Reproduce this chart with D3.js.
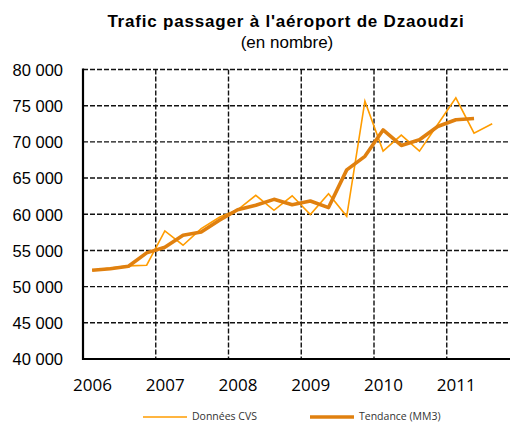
<!DOCTYPE html>
<html>
<head>
<meta charset="utf-8">
<script src="https://cdn.jsdelivr.net/npm/d3@7"></script>
<style>
  body { margin: 0; background: #fff; }
  svg { display: block; }
</style>
</head>
<body>
<div id="chart"></div>
<script>
// quarterly values, Q1 2006 -> Q3 2011
var cvs = [52270, 52550, 52870, 52960, 57690, 55720, 58020, 59580, 60620, 62620,
           60550, 62550, 59950, 62820, 59720, 75620, 68720, 70930, 68720, 72400,
           76090, 71210, 72500];
var tendance = [52270, 52480, 52820, 54660, 55440, 57100, 57550, 59170, 60620, 61240,
                62060, 61310, 61830, 60920, 66130, 68000, 71650, 69510, 70300, 72130,
                73050, 73230];
var years = [2006, 2007, 2008, 2009, 2010, 2011];
var yTicks = [40000, 45000, 50000, 55000, 60000, 65000, 70000, 75000, 80000];
var yLabels = ["40 000", "45 000", "50 000", "55 000", "60 000", "65 000", "70 000", "75 000", "80 000"];

var width = 510, height = 423;

var svg = d3.select("#chart").append("svg")
    .attr("width", width)
    .attr("height", height);

var x = d3.scaleLinear().domain([2006, 2012]).range([83, 519.5]);
var y = d3.scaleLinear().domain([40000, 80000]).range([359, 69.5]);

function qx(i) { return x(2006 + (i + 0.5) / 4); }

// title
svg.append("text")
    .attr("x", 286).attr("y", 27)
    .attr("text-anchor", "middle")
    .style("font-family", "Liberation Sans, Arial, sans-serif")
    .style("font-weight", "bold")
    .style("font-size", "17px")
    .style("letter-spacing", "0.8px")
    .text("Trafic passager à l'aéroport de Dzaoudzi");
svg.append("text")
    .attr("x", 287).attr("y", 48)
    .attr("text-anchor", "middle")
    .style("font-family", "Liberation Sans, Arial, sans-serif")
    .style("font-size", "17px")
    .text("(en nombre)");

// grid
var grid = svg.append("g")
    .attr("stroke", "#111")
    .attr("stroke-width", 1.4)
    .attr("stroke-dasharray", "5,2");

grid.selectAll(".hy").data(yTicks.slice(1))
    .enter().append("line")
    .attr("x1", x(2006)).attr("x2", width)
    .attr("y1", function(d) { return y(d); })
    .attr("y2", function(d) { return y(d); });

grid.selectAll(".vx").data(years.slice(1))
    .enter().append("line")
    .attr("y1", y(80000)).attr("y2", y(40000))
    .attr("x1", function(d) { return x(d); })
    .attr("x2", function(d) { return x(d); });

// axes lines
svg.append("line")
    .attr("x1", x(2006)).attr("x2", x(2006))
    .attr("y1", y(80000) - 1).attr("y2", y(40000) + 1)
    .attr("stroke", "#000").attr("stroke-width", 2.2);
svg.append("line")
    .attr("x1", x(2006) - 1).attr("x2", width)
    .attr("y1", y(40000)).attr("y2", y(40000))
    .attr("stroke", "#000").attr("stroke-width", 2.2);

// y labels
svg.selectAll(".ylab").data(yTicks)
    .enter().append("text")
    .attr("x", 63)
    .attr("y", function(d) { return y(d); })
    .attr("dy", "0.38em")
    .attr("text-anchor", "end")
    .style("font-family", "Liberation Sans, Arial, sans-serif")
    .style("font-size", "16.5px")
    .text(function(d, i) { return yLabels[i]; });

// x labels
svg.selectAll(".xlab").data(years)
    .enter().append("text")
    .attr("x", function(d) { return x(d) + 9.5; })
    .attr("y", 391)
    .attr("text-anchor", "middle")
    .style("font-family", "Open Sans, sans-serif")
    .style("font-size", "17px")
    .text(function(d) { return d; });

// lines
var line = d3.line()
    .x(function(d, i) { return qx(i); })
    .y(function(d) { return y(d); });

svg.append("path")
    .datum(cvs)
    .attr("d", line)
    .attr("fill", "none")
    .attr("stroke", "#FF9C00")
    .attr("stroke-width", 1.6);

svg.append("path")
    .datum(tendance)
    .attr("d", line)
    .attr("fill", "none")
    .attr("stroke", "#E0800F")
    .attr("stroke-width", 3.6)
    .attr("stroke-linejoin", "round");

// legend
var legend = [
  { label: "Données CVS", color: "#FF9C00", w: 1.6, x: 143 },
  { label: "Tendance (MM3)", color: "#E0800F", w: 3.6, x: 310 }
];
var lg = svg.selectAll(".lg").data(legend).enter().append("g");
lg.append("line")
    .attr("x1", function(d) { return d.x; })
    .attr("x2", function(d) { return d.x + 44; })
    .attr("y1", 417).attr("y2", 417)
    .attr("stroke", function(d) { return d.color; })
    .attr("stroke-width", function(d) { return d.w; });
lg.append("text")
    .attr("x", function(d) { return d.x + 49; })
    .attr("y", 420)
    .style("font-family", "Open Sans, sans-serif")
    .style("font-size", "10.5px")
    .style("fill", "#333")
    .text(function(d) { return d.label; });
</script>
</body>
</html>
